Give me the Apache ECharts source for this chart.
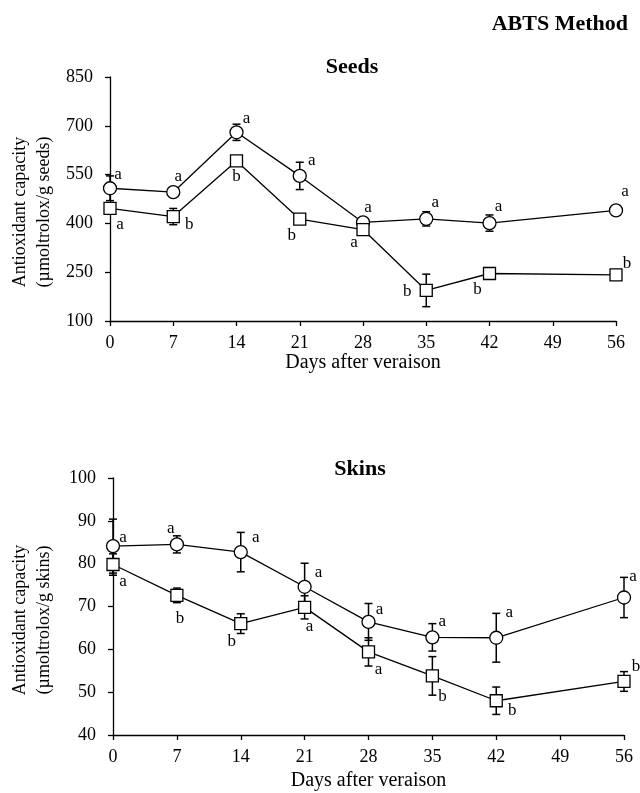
<!DOCTYPE html>
<html>
<head>
<meta charset="utf-8">
<script src="https://cdn.jsdelivr.net/npm/echarts@6/dist/echarts.min.js"></script>
<style>html,body{margin:0;padding:0;background:#fff;}#c{width:640px;height:793px;}</style>
</head>
<body>
<div id="c"></div>
<script>
// ---- data ----
const days = [0, 7, 14, 21, 28, 35, 42, 56];
const xTicks = [0, 7, 14, 21, 28, 35, 42, 49, 56];

const seedsCircle = [508, 496, 680, 546, 403, 414, 401, 440];
const seedsCircleErr = [38, 8, 25, 42, 12, 22, 25, 8];
const seedsCircleLetters = ['a', 'a', 'a', 'a', 'a', 'a', 'a', 'a'];
const seedsSquare = [446, 421, 592, 413, 381, 194, 246, 242];
const seedsSquareErr = [12, 25, 10, 8, 10, 50, 8, 8];
const seedsSquareLetters = ['a', 'b', 'b', 'b', 'a', 'b', 'b', 'b'];

const skinsCircle = [84.1, 84.5, 82.7, 74.6, 66.4, 62.8, 62.7, 72.1];
const skinsCircleErr = [6.3, 2.0, 4.6, 5.5, 4.3, 3.2, 5.7, 4.7];
const skinsCircleLetters = ['a', 'a', 'a', 'a', 'a', 'a', 'a', 'a'];
const skinsSquare = [79.8, 72.6, 66.0, 69.8, 59.4, 53.8, 48.0, 52.5];
const skinsSquareErr = [2.5, 1.7, 2.3, 2.7, 3.3, 4.5, 3.2, 2.3];
const skinsSquareLetters = ['a', 'b', 'b', 'a', 'a', 'b', 'b', 'b'];

const seedsTicks = [100, 250, 400, 550, 700, 850];
const skinsTicks = [40, 50, 60, 70, 80, 90, 100];

// ---- label placement (style) ----
const offSeedsCircle = [[8,-14],[5,-16],[10,-14],[12,-15],[5,-15],[9,-16],[9,-17],[9,-19]];
const offSeedsSquare = [[10,16],[16,8],[0,16],[-8,16],[-9,13],[-19,1],[-12,16],[11,-11]];
const offSkinsCircle = [[10,-9],[-6,-16],[15,-15],[14,-14],[11,-12],[10,-16],[13,-25],[9,-21]];
const offSkinsSquare = [[10,17],[3,23],[-9,18],[5,19],[10,18],[10,21],[16,10],[12,-15]];

const FONT = '"Liberation Serif", "Times New Roman", serif';

function lineSeries(idx, vals, letters, offs, symbol, size) {
  return {
    type: 'line', xAxisIndex: idx, yAxisIndex: idx, z: 5,
    symbol: symbol, symbolSize: size, showAllSymbol: true,
    lineStyle: { color: '#000', width: 1.3 },
    itemStyle: { color: '#fff', borderColor: '#000', borderWidth: 1.3 },
    data: vals.map((v, i) => ({
      value: [days[i], v],
      label: { show: true, position: 'inside', offset: offs[i], formatter: letters[i],
               color: '#000', fontFamily: FONT, fontSize: 17 }
    })),
    animation: false
  };
}

function errSeries(idx, vals, errs) {
  return {
    type: 'custom', xAxisIndex: idx, yAxisIndex: idx, z: 3,
    data: vals.map((v, i) => [days[i], v - errs[i], v + errs[i]]),
    renderItem: function (params, api) {
      const x = api.value(0);
      const lo = api.coord([x, api.value(1)]);
      const hi = api.coord([x, api.value(2)]);
      const w = 4;
      const st = { stroke: '#000', lineWidth: 1.5 };
      return { type: 'group', children: [
        { type: 'line', shape: { x1: lo[0], y1: lo[1], x2: hi[0], y2: hi[1] }, style: st },
        { type: 'line', shape: { x1: hi[0] - w, y1: hi[1], x2: hi[0] + w, y2: hi[1] }, style: st },
        { type: 'line', shape: { x1: lo[0] - w, y1: lo[1], x2: lo[0] + w, y2: lo[1] }, style: st }
      ]};
    },
    animation: false
  };
}

const axisCommon = {
  axisLine: { show: true, lineStyle: { color: '#000', width: 1.3 } },
  axisTick: { show: true, inside: false, length: 5, lineStyle: { color: '#000', width: 1.3 } },
  splitLine: { show: false }
};

function xAxis(idx, gap) {
  return Object.assign({}, axisCommon, {
    type: 'value', gridIndex: idx, min: xTicks[0], max: xTicks[xTicks.length - 1], interval: 7,
    name: 'Days after veraison', nameLocation: 'middle', nameGap: gap,
    nameTextStyle: { color: '#000', fontFamily: FONT, fontSize: 20 },
    axisLabel: { color: '#000', fontFamily: FONT, fontSize: 18, margin: 13 }
  });
}
function yAxis(idx, ticks) {
  return Object.assign({}, axisCommon, {
    type: 'value', gridIndex: idx, min: ticks[0], max: ticks[ticks.length - 1],
    interval: ticks[1] - ticks[0],
    axisLabel: { color: '#000', fontFamily: FONT, fontSize: 18, margin: 17 }
  });
}

const chart = echarts.init(document.getElementById('c'), null, { renderer: 'canvas' });
chart.setOption({
  backgroundColor: '#fff',
  animation: false,
  grid: [
    { left: 110, top: 77, width: 506, height: 244 },
    { left: 113, top: 478, width: 511, height: 257 }
  ],
  xAxis: [xAxis(0, 27), xAxis(1, 36)],
  yAxis: [yAxis(0, seedsTicks), yAxis(1, skinsTicks)],
  graphic: [
    { type: 'text', x: 628, y: 24, style: { text: 'ABTS Method', fill: '#000', font: 'bold 22px ' + FONT, textAlign: 'right', textVerticalAlign: 'middle' } },
    { type: 'text', x: 352, y: 67, style: { text: 'Seeds', fill: '#000', font: 'bold 22px ' + FONT, textAlign: 'center', textVerticalAlign: 'middle' } },
    { type: 'text', x: 360, y: 469, style: { text: 'Skins', fill: '#000', font: 'bold 22px ' + FONT, textAlign: 'center', textVerticalAlign: 'middle' } },
    { type: 'text', x: 32, y: 212, rotation: Math.PI / 2,
      style: { text: 'Antioxidant capacity\n(µmoltrolox/g seeds)', fill: '#000', font: '18px ' + FONT, textAlign: 'center', textVerticalAlign: 'middle', lineHeight: 24 } },
    { type: 'text', x: 32, y: 620, rotation: Math.PI / 2,
      style: { text: 'Antioxidant capacity\n(µmoltrolox/g skins)', fill: '#000', font: '18px ' + FONT, textAlign: 'center', textVerticalAlign: 'middle', lineHeight: 24 } }
  ],
  series: [
    errSeries(0, seedsCircle, seedsCircleErr),
    errSeries(0, seedsSquare, seedsSquareErr),
    lineSeries(0, seedsCircle, seedsCircleLetters, offSeedsCircle, 'circle', 13),
    lineSeries(0, seedsSquare, seedsSquareLetters, offSeedsSquare, 'rect', 12),
    errSeries(1, skinsCircle, skinsCircleErr),
    errSeries(1, skinsSquare, skinsSquareErr),
    lineSeries(1, skinsCircle, skinsCircleLetters, offSkinsCircle, 'circle', 13),
    lineSeries(1, skinsSquare, skinsSquareLetters, offSkinsSquare, 'rect', 12)
  ]
});
</script>
</body>
</html>
